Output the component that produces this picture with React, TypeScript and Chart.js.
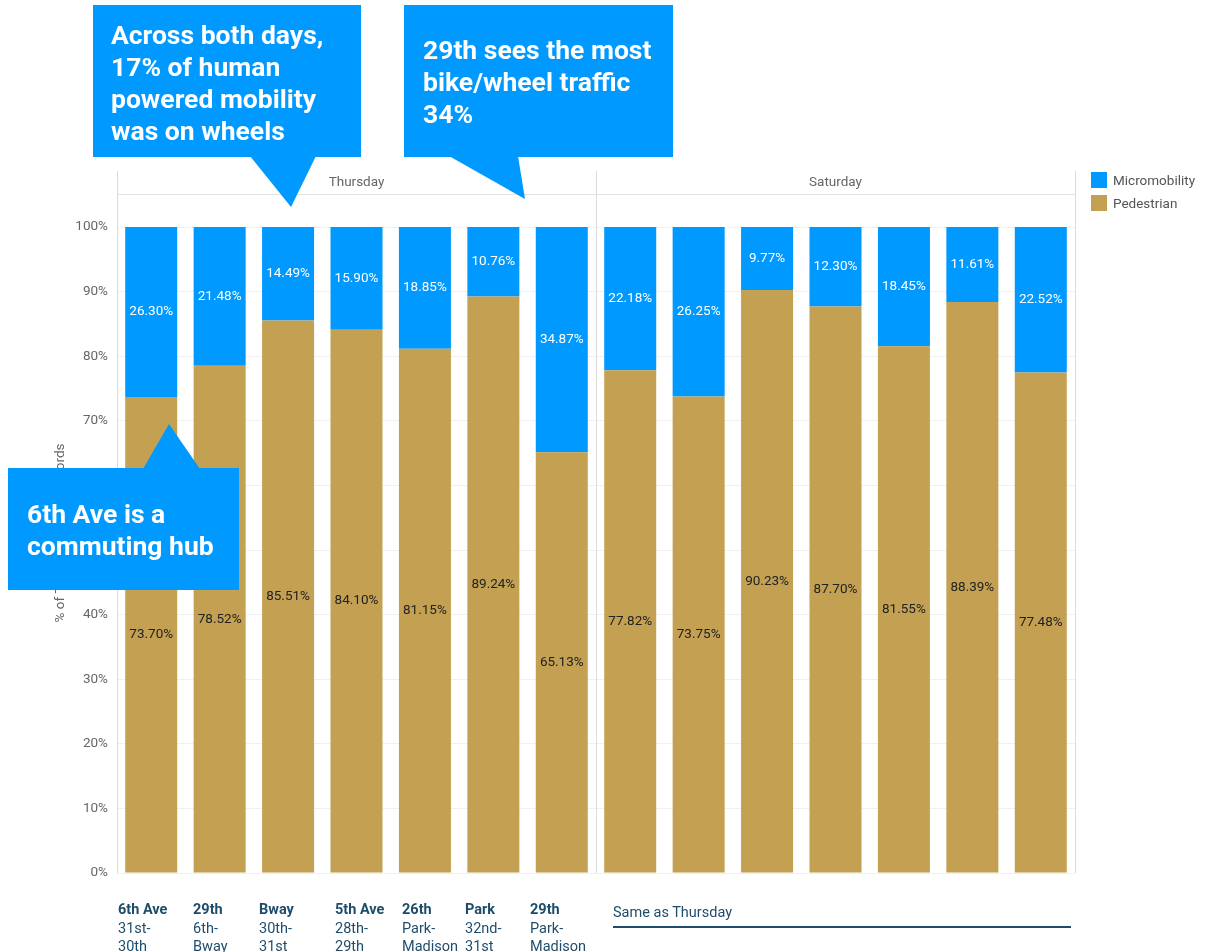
import React, { useEffect, useRef } from "react";
import { Chart, registerables } from "chart.js";

Chart.register(...registerables);

const categories = [
  "Thu 6th Ave 31st-30th",
  "Thu 29th 6th-Bway",
  "Thu Bway 30th-31st",
  "Thu 5th Ave 28th-29th",
  "Thu 26th Park-Madison",
  "Thu Park 32nd-31st",
  "Thu 29th Park-Madison",
  "Sat 6th Ave 31st-30th",
  "Sat 29th 6th-Bway",
  "Sat Bway 30th-31st",
  "Sat 5th Ave 28th-29th",
  "Sat 26th Park-Madison",
  "Sat Park 32nd-31st",
  "Sat 29th Park-Madison",
];
const micromobility = [26.3, 21.48, 14.49, 15.9, 18.85, 10.76, 34.87, 22.18, 26.25, 9.77, 12.3, 18.45, 11.61, 22.52];
const pedestrian = [73.7, 78.52, 85.51, 84.1, 81.15, 89.24, 65.13, 77.82, 73.75, 90.23, 87.7, 81.55, 88.39, 77.48];
const panes = ["Thursday", "Saturday"];
const yAxisTitle = "% of Total Number of Records";
const seriesNames = ["Micromobility", "Pedestrian"];

const streetNames = ["6th Ave", "29th", "Bway", "5th Ave", "26th", "Park", "29th"];
const blockFrom = ["31st-", "6th-", "30th-", "28th-", "Park-", "32nd-", "Park-"];
const blockTo = ["30th", "Bway", "31st", "29th", "Madison", "31st", "Madison"];
const streetLabelX = [118, 193, 259, 335, 402, 465, 530];

const BLUE = "#0099FF";
const GOLD = "#C3A052";
const NAVY = "#1E4D6B";
const FONT = "Roboto, 'Noto Sans', sans-serif";

const panePlugin = {
  id: "panePlugin",
  beforeDatasetsDraw(chart: any) {
    const { ctx, chartArea, scales } = chart;
    const x = scales.x;
    const half = chart.data.labels.length / 2;
    const divider = (x.getPixelForValue(half - 1) + x.getPixelForValue(half)) / 2;
    const topY = chartArea.top - 56;
    const headerY = chartArea.top - 33;
    ctx.save();
    ctx.strokeStyle = "#e2e2e2";
    ctx.lineWidth = 1;
    ctx.beginPath();
    ctx.moveTo(chartArea.left, headerY + 0.5);
    ctx.lineTo(chartArea.right, headerY + 0.5);
    ctx.stroke();
    ctx.strokeStyle = "#dcdcdc";
    [chartArea.left, divider, chartArea.right].forEach((px: number) => {
      ctx.beginPath();
      ctx.moveTo(Math.round(px) + 0.5, topY);
      ctx.lineTo(Math.round(px) + 0.5, chartArea.bottom);
      ctx.stroke();
    });
    ctx.fillStyle = "#666";
    ctx.font = `13.5px ${FONT}`;
    ctx.textAlign = "center";
    ctx.textBaseline = "middle";
    const centers = [(chartArea.left + divider) / 2, (divider + chartArea.right) / 2];
    panes.forEach((p, i) => ctx.fillText(p, centers[i], topY + 12));
    // y axis title
    ctx.translate(61, (topY + chartArea.bottom) / 2 + 11);
    ctx.rotate(-Math.PI / 2);
    ctx.fillText(yAxisTitle, 0, 0);
    ctx.restore();
  },
  afterDatasetsDraw(chart: any) {
    const { ctx } = chart;
    ctx.save();
    ctx.font = `13.5px ${FONT}`;
    ctx.textAlign = "center";
    ctx.textBaseline = "middle";
    chart.data.datasets.forEach((ds: any, di: number) => {
      const meta = chart.getDatasetMeta(di);
      meta.data.forEach((el: any, i: number) => {
        const yc = (el.y + el.base) / 2;
        ctx.fillStyle = di === 0 ? "#222" : "#ffffff";
        ctx.fillText(ds.data[i].toFixed(2) + "%", el.x, yc);
      });
    });
    ctx.restore();
  },
};

function ChartCanvas() {
  const ref = useRef<HTMLCanvasElement>(null);
  useEffect(() => {
    if (!ref.current) return;
    const chart = new Chart(ref.current, {
      type: "bar",
      data: {
        labels: categories,
        datasets: [
          {
            label: seriesNames[1],
            data: pedestrian,
            backgroundColor: GOLD,
            barPercentage: 0.76,
            categoryPercentage: 1,
          },
          {
            label: seriesNames[0],
            data: micromobility,
            backgroundColor: BLUE,
            barPercentage: 0.76,
            categoryPercentage: 1,
          },
        ],
      },
      options: {
        animation: false,
        responsive: false,
        devicePixelRatio: 1,
        layout: { padding: { left: 0, right: 139, top: 227, bottom: 27 } },
        plugins: { legend: { display: false }, tooltip: { enabled: false } },
        scales: {
          x: { stacked: true, display: false },
          y: {
            stacked: true,
            min: 0,
            max: 100,
            ticks: {
              stepSize: 10,
              padding: 9,
              color: "#666",
              font: { family: FONT, size: 13.5 },
              callback: (v: any) => v + "%",
            },
            grid: { color: "#f0f0f0", drawTicks: false },
            border: { display: false },
            afterFit: (scale: any) => {
              scale.width = 117;
            },
          },
        },
      },
      plugins: [panePlugin],
    });
    return () => chart.destroy();
  }, []);
  return (
    <canvas
      ref={ref}
      width={1214}
      height={900}
      style={{ position: "absolute", left: 0, top: 0, width: 1214, height: 900 }}
    />
  );
}

const calloutText: React.CSSProperties = {
  position: "absolute",
  color: "#fff",
  fontFamily: FONT,
  fontWeight: 700,
  fontSize: 26.5,
  lineHeight: "32px",
  whiteSpace: "nowrap",
};

export default function App() {
  return (
    <div style={{ position: "absolute", left: 0, top: 0, width: 1214, height: 952, background: "#fff", overflow: "hidden" }}>
      <ChartCanvas />
      {/* legend */}
      {seriesNames.map((n, i) => (
        <div key={n} style={{ position: "absolute", left: 1091, top: 172 + i * 23, height: 16, display: "flex", alignItems: "center" }}>
          <div style={{ width: 16, height: 16, background: i === 0 ? BLUE : GOLD }} />
          <span style={{ marginLeft: 6, fontFamily: FONT, fontSize: 13.5, color: "#555" }}>{n}</span>
        </div>
      ))}
      {/* callouts */}
      <svg width={1214} height={952} style={{ position: "absolute", left: 0, top: 0 }}>
        <rect x={93} y={5} width={268} height={152} fill={BLUE} />
        <polygon points="250,156 316,156 291,207" fill={BLUE} />
        <rect x={404} y={5} width={269} height={152} fill={BLUE} />
        <polygon points="449,156 518,156 525,199" fill={BLUE} />
        <rect x={8} y={468} width={231} height={122} fill={BLUE} />
        <polygon points="143,469 200,469 169,424" fill={BLUE} />
      </svg>
      <div style={{ ...calloutText, left: 111, top: 19 }}>
        Across both days,
        <br />
        17% of human
        <br />
        powered mobility
        <br />
        was on wheels
      </div>
      <div style={{ ...calloutText, left: 423, top: 34 }}>
        29th sees the most
        <br />
        bike/wheel traffic
        <br />
        34%
      </div>
      <div style={{ ...calloutText, left: 27, top: 498 }}>
        6th Ave is a
        <br />
        commuting hub
      </div>
      {/* street labels */}
      {streetNames.map((s, i) => (
        <div
          key={i}
          style={{
            position: "absolute",
            left: streetLabelX[i],
            top: 901,
            fontFamily: FONT,
            fontSize: 14.5,
            lineHeight: "18.5px",
            color: NAVY,
            whiteSpace: "nowrap",
          }}
        >
          <div style={{ fontWeight: 700 }}>{s}</div>
          <div>{blockFrom[i]}</div>
          <div>{blockTo[i]}</div>
        </div>
      ))}
      <div
        style={{
          position: "absolute",
          left: 613,
          top: 904,
          width: 458,
          fontFamily: FONT,
          fontSize: 14.5,
          lineHeight: "18px",
          color: NAVY,
          paddingBottom: 4,
          borderBottom: `2px solid ${NAVY}`,
        }}
      >
        Same as Thursday
      </div>
    </div>
  );
}
